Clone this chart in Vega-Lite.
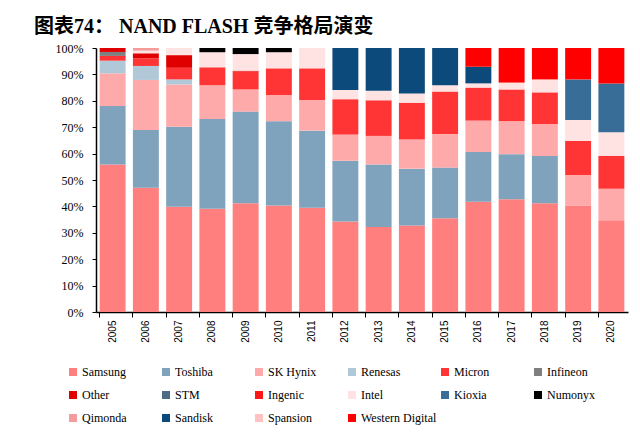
{
  "$schema": "https://vega.github.io/schema/vega-lite/v6.json",
  "autosize": "none",
  "padding": {"left": 96, "top": 48, "right": 12, "bottom": 130},
  "width": 532,
  "height": 264,
  "background": "white",
  "title": {
    "text": "图表74：    NAND FLASH 竞争格局演变",
    "anchor": "start",
    "frame": "group",
    "dx": -62,
    "offset": 5,
    "font": "Liberation Serif, Noto Sans CJK SC",
    "fontSize": 20,
    "fontWeight": "bold",
    "color": "#000000"
  },
  "data": {
    "values": [
      {"year": "2005", "company": "Samsung", "share": 55.9},
      {"year": "2005", "company": "Toshiba", "share": 22.1},
      {"year": "2005", "company": "SK Hynix", "share": 12.4},
      {"year": "2005", "company": "Renesas", "share": 4.8},
      {"year": "2005", "company": "Micron", "share": 1.8},
      {"year": "2005", "company": "Infineon", "share": 1.5},
      {"year": "2005", "company": "Other", "share": 1.5},
      {"year": "2006", "company": "Samsung", "share": 47.1},
      {"year": "2006", "company": "Toshiba", "share": 21.8},
      {"year": "2006", "company": "SK Hynix", "share": 19.0},
      {"year": "2006", "company": "Renesas", "share": 5.3},
      {"year": "2006", "company": "Micron", "share": 2.9},
      {"year": "2006", "company": "Other", "share": 1.9},
      {"year": "2006", "company": "Intel", "share": 1.0},
      {"year": "2006", "company": "Qimonda", "share": 1.0},
      {"year": "2007", "company": "Samsung", "share": 39.9},
      {"year": "2007", "company": "Toshiba", "share": 30.3},
      {"year": "2007", "company": "SK Hynix", "share": 16.0},
      {"year": "2007", "company": "Renesas", "share": 1.9},
      {"year": "2007", "company": "Micron", "share": 4.4},
      {"year": "2007", "company": "Other", "share": 4.8},
      {"year": "2007", "company": "Intel", "share": 2.7},
      {"year": "2008", "company": "Samsung", "share": 39.1},
      {"year": "2008", "company": "Toshiba", "share": 34.0},
      {"year": "2008", "company": "SK Hynix", "share": 12.8},
      {"year": "2008", "company": "Micron", "share": 6.8},
      {"year": "2008", "company": "Intel", "share": 5.7},
      {"year": "2008", "company": "Numonyx", "share": 1.6},
      {"year": "2009", "company": "Samsung", "share": 41.2},
      {"year": "2009", "company": "Toshiba", "share": 34.7},
      {"year": "2009", "company": "SK Hynix", "share": 8.4},
      {"year": "2009", "company": "Micron", "share": 6.8},
      {"year": "2009", "company": "Other", "share": 0.3},
      {"year": "2009", "company": "Intel", "share": 6.3},
      {"year": "2009", "company": "Numonyx", "share": 2.3},
      {"year": "2010", "company": "Samsung", "share": 40.3},
      {"year": "2010", "company": "Toshiba", "share": 32.0},
      {"year": "2010", "company": "SK Hynix", "share": 9.9},
      {"year": "2010", "company": "Micron", "share": 10.1},
      {"year": "2010", "company": "Intel", "share": 6.1},
      {"year": "2010", "company": "Numonyx", "share": 1.6},
      {"year": "2011", "company": "Samsung", "share": 39.5},
      {"year": "2011", "company": "Toshiba", "share": 29.2},
      {"year": "2011", "company": "SK Hynix", "share": 11.6},
      {"year": "2011", "company": "Micron", "share": 12.0},
      {"year": "2011", "company": "Intel", "share": 7.7},
      {"year": "2012", "company": "Samsung", "share": 34.3},
      {"year": "2012", "company": "Toshiba", "share": 23.0},
      {"year": "2012", "company": "SK Hynix", "share": 9.9},
      {"year": "2012", "company": "Micron", "share": 13.4},
      {"year": "2012", "company": "Intel", "share": 3.5},
      {"year": "2012", "company": "Sandisk", "share": 15.9},
      {"year": "2013", "company": "Samsung", "share": 32.2},
      {"year": "2013", "company": "Toshiba", "share": 23.7},
      {"year": "2013", "company": "SK Hynix", "share": 10.8},
      {"year": "2013", "company": "Micron", "share": 13.5},
      {"year": "2013", "company": "Intel", "share": 3.6},
      {"year": "2013", "company": "Sandisk", "share": 16.2},
      {"year": "2014", "company": "Samsung", "share": 32.8},
      {"year": "2014", "company": "Toshiba", "share": 21.5},
      {"year": "2014", "company": "SK Hynix", "share": 11.0},
      {"year": "2014", "company": "Micron", "share": 14.0},
      {"year": "2014", "company": "Intel", "share": 3.5},
      {"year": "2014", "company": "Sandisk", "share": 17.2},
      {"year": "2015", "company": "Samsung", "share": 35.5},
      {"year": "2015", "company": "Toshiba", "share": 19.2},
      {"year": "2015", "company": "SK Hynix", "share": 12.7},
      {"year": "2015", "company": "Micron", "share": 16.1},
      {"year": "2015", "company": "Intel", "share": 2.4},
      {"year": "2015", "company": "Sandisk", "share": 14.1},
      {"year": "2016", "company": "Samsung", "share": 41.8},
      {"year": "2016", "company": "Toshiba", "share": 18.8},
      {"year": "2016", "company": "SK Hynix", "share": 11.9},
      {"year": "2016", "company": "Micron", "share": 12.5},
      {"year": "2016", "company": "Intel", "share": 1.6},
      {"year": "2016", "company": "Sandisk", "share": 6.3},
      {"year": "2016", "company": "Western Digital", "share": 7.1},
      {"year": "2017", "company": "Samsung", "share": 42.7},
      {"year": "2017", "company": "Toshiba", "share": 17.1},
      {"year": "2017", "company": "SK Hynix", "share": 12.5},
      {"year": "2017", "company": "Micron", "share": 12.0},
      {"year": "2017", "company": "Intel", "share": 2.6},
      {"year": "2017", "company": "Western Digital", "share": 13.1},
      {"year": "2018", "company": "Samsung", "share": 41.2},
      {"year": "2018", "company": "Toshiba", "share": 17.9},
      {"year": "2018", "company": "SK Hynix", "share": 12.1},
      {"year": "2018", "company": "Micron", "share": 12.0},
      {"year": "2018", "company": "Intel", "share": 4.9},
      {"year": "2018", "company": "Western Digital", "share": 11.9},
      {"year": "2019", "company": "Samsung", "share": 40.3},
      {"year": "2019", "company": "SK Hynix", "share": 11.6},
      {"year": "2019", "company": "Micron", "share": 12.9},
      {"year": "2019", "company": "Intel", "share": 7.9},
      {"year": "2019", "company": "Kioxia", "share": 15.4},
      {"year": "2019", "company": "Western Digital", "share": 11.9},
      {"year": "2020", "company": "Samsung", "share": 34.8},
      {"year": "2020", "company": "SK Hynix", "share": 11.9},
      {"year": "2020", "company": "Micron", "share": 12.5},
      {"year": "2020", "company": "Intel", "share": 8.9},
      {"year": "2020", "company": "Kioxia", "share": 18.5},
      {"year": "2020", "company": "Western Digital", "share": 13.4}
    ]
  },
  "transform": [
    {"calculate": "indexof(['Samsung', 'Toshiba', 'SK Hynix', 'Renesas', 'Micron', 'Infineon', 'Other', 'STM', 'Ingenic', 'Intel', 'Kioxia', 'Numonyx', 'Qimonda', 'Sandisk', 'Spansion', 'Western Digital'], datum.company)", "as": "stackKey"}
  ],
  "mark": {"type": "bar"},
  "encoding": {
    "x": {
      "field": "year",
      "type": "ordinal",
      "title": null,
      "scale": {"paddingInner": 0.22, "paddingOuter": 0.11},
      "axis": {
        "labelAngle": -90,
        "labelFont": "Liberation Sans",
        "labelFontSize": 10,
        "labelColor": "#000000",
        "domainColor": "#000000",
        "domainWidth": 1.5,
        "tickColor": "#000000",
        "tickSize": 5,
        "bandPosition": 0,
        "labelPadding": 3
      }
    },
    "y": {
      "field": "share",
      "type": "quantitative",
      "stack": "normalize",
      "title": null,
      "scale": {"domain": [0, 1]},
      "axis": {
        "format": ".0%",
        "values": [0, 0.1, 0.2, 0.3, 0.4, 0.5, 0.6, 0.7, 0.8, 0.9, 1],
        "grid": false,
        "labelFont": "Liberation Serif, serif",
        "labelFontSize": 12,
        "labelColor": "#000000",
        "domainColor": "#000000",
        "domainWidth": 1.5,
        "tickColor": "#000000",
        "tickSize": 4,
        "labelPadding": 9
      }
    },
    "order": {"field": "stackKey", "type": "quantitative", "sort": "ascending"},
    "color": {
      "field": "company",
      "type": "nominal",
      "scale": {
        "domain": ["Samsung", "Toshiba", "SK Hynix", "Renesas", "Micron", "Infineon", "Other", "STM", "Ingenic", "Intel", "Kioxia", "Numonyx", "Qimonda", "Sandisk", "Spansion", "Western Digital"],
        "range": ["#ff7f7f", "#7fa2bd", "#ffaaaa", "#b0c8d8", "#ff3434", "#7f7f7f", "#e00000", "#4e6b86", "#ff1515", "#ffe2e2", "#376d96", "#000000", "#f59b9b", "#0c4a7b", "#ffc2c2", "#ff0000"]
      },
      "legend": {
        "title": null,
        "orient": "none",
        "legendX": -29,
        "legendY": 318,
        "direction": "horizontal",
        "columns": 6,
        "gridAlign": "all",
        "symbolType": "square",
        "symbolSize": 64,
        "symbolStrokeWidth": 0,
        "symbolOffset": 0,
        "labelOffset": 3,
        "labelFont": "Liberation Serif, serif",
        "labelFontSize": 12,
        "labelColor": "#000000",
        "columnPadding": 2,
        "rowPadding": 11,
        "labelLimit": 120
      }
    }
  },
  "config": {
    "view": {"stroke": null},
    "axis": {"labelFontWeight": "normal"},
    "legend": {"labelFont": "Liberation Serif, serif"}
  }
}
